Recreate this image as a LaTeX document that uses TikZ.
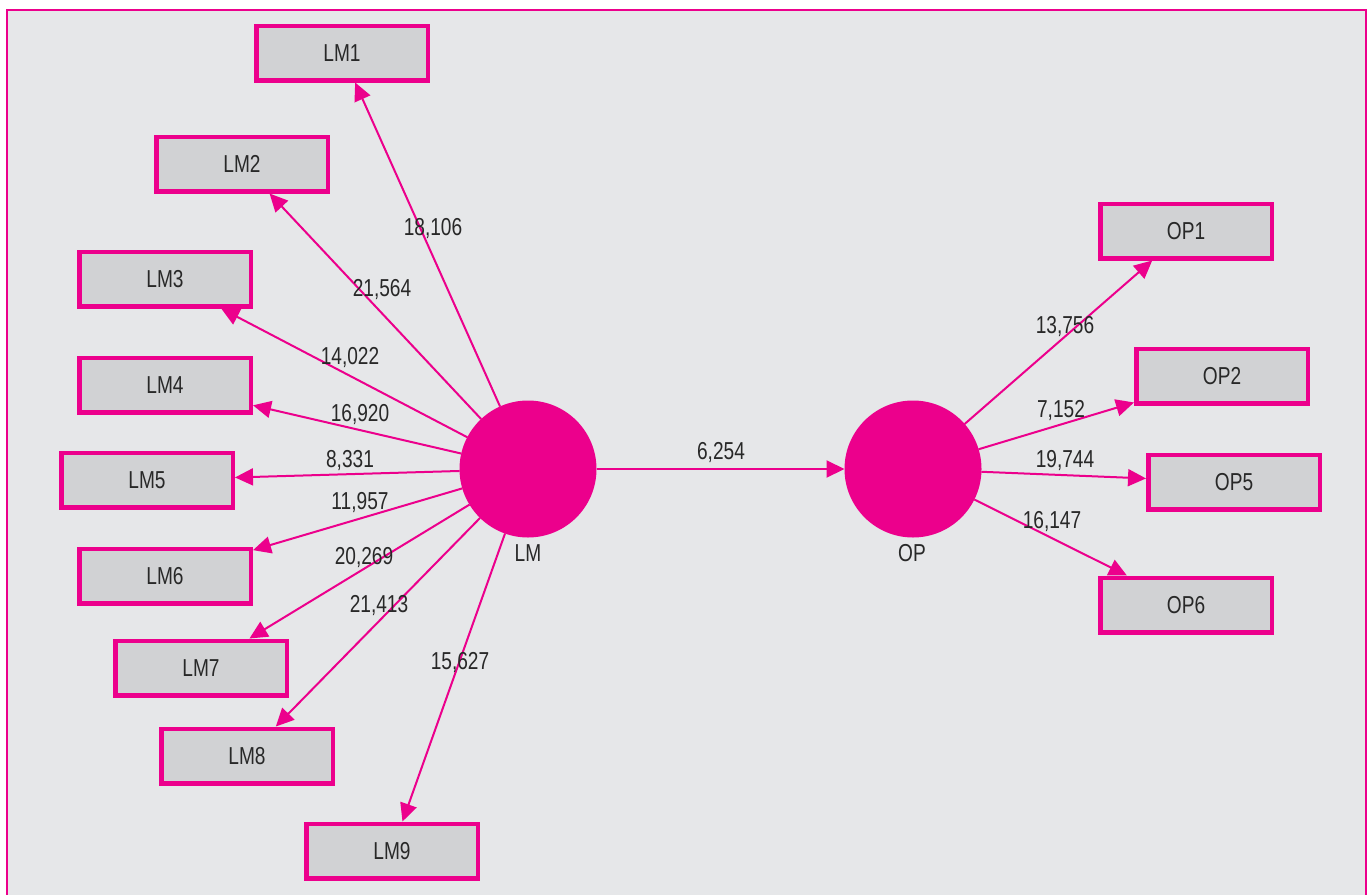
\documentclass[tikz,border=0pt]{standalone}
\usepackage{fontspec}
\setmainfont{Liberation Sans}[FakeStretch=0.78]
\usetikzlibrary{arrows.meta}
\definecolor{pk}{RGB}{236,0,140}
\definecolor{bg}{RGB}{230,231,233}
\definecolor{boxgray}{RGB}{209,210,212}
\definecolor{txt}{RGB}{40,40,40}
\newcommand\lblfont{\fontsize{24.5pt}{29pt}\selectfont}
\begin{document}
\begin{tikzpicture}[x=1pt,y=-1pt,
 box/.style={draw=pk,line width=4.5pt,fill=boxgray,minimum width=171.5pt,minimum height=54.5pt,inner sep=0pt,font=\lblfont,text=txt},
 lv/.style={circle,fill=pk,minimum size=137pt,inner sep=0pt,outer sep=0pt},
 conn/.style={pk,line width=2pt,-{Triangle[length=18pt,width=17pt]}},
 wt/.style={font=\lblfont,text=txt,inner sep=0pt}]
\useasboundingbox (0,0) rectangle (1370,894);
\clip (0,0) rectangle (1370,894);
\fill[bg] (7,10) rectangle (1366,900);
\draw[pk,line width=2pt] (7,900) -- (7,10) -- (1366,10) -- (1366,900);
% latent variables
\node[lv] (LM) at (528,469) {};
\node[lv] (OP) at (913,469) {};
\node[wt] (LMl) at (528,553) {LM};
\node[wt] (OPl) at (912,553) {OP};
% indicator boxes
\node[box] (LM1) at (342,53) {LM1};
\node[box] (LM2) at (242,164) {LM2};
\node[box] (LM3) at (165,279) {LM3};
\node[box] (LM4) at (165,385) {LM4};
\node[box] (LM5) at (147,480) {LM5};
\node[box] (LM6) at (165,576) {LM6};
\node[box] (LM7) at (201,668) {LM7};
\node[box] (LM8) at (247,756) {LM8};
\node[box] (LM9) at (392,851) {LM9};
\node[box] (OP1) at (1186,231) {OP1};
\node[box] (OP2) at (1222,376) {OP2};
\node[box] (OP5) at (1234,482) {OP5};
\node[box] (OP6) at (1186,605) {OP6};
% connectors
\foreach \i in {1,...,9} \draw[conn] (LM) -- (LM\i);
\foreach \i in {1,2,5,6} \draw[conn] (OP) -- (OP\i);
\draw[conn] (LM) -- (OP);
% weights
\node[wt] (w1) at (433,229) {18,106};
\node[wt] (w2) at (382,290) {21,564};
\node[wt] (w3) at (350,358) {14,022};
\node[wt] (w4) at (360,415) {16,920};
\node[wt] (w5) at (350,461) {8,331};
\node[wt] (w6) at (360,503) {11,957};
\node[wt] (w7) at (364,558) {20,269};
\node[wt] (w8) at (379,606) {21,413};
\node[wt] (w9) at (460,663) {15,627};
\node[wt] (wo1) at (1065,327) {13,756};
\node[wt] (wo2) at (1061,411) {7,152};
\node[wt] (wo5) at (1065,461) {19,744};
\node[wt] (wo6) at (1052,522) {16,147};
\node[wt] (wlo) at (721,453) {6,254};
\end{tikzpicture}
\end{document}
